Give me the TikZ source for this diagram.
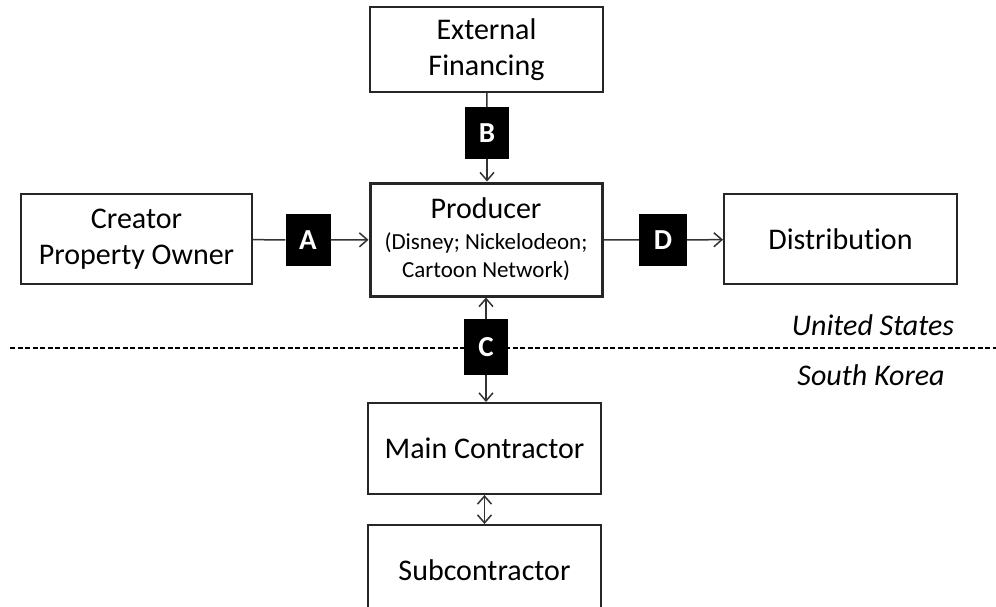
\documentclass[tikz,border=0pt]{standalone}
\usepackage{fontspec}
\setmainfont{Carlito}[Ligatures={NoCommon,NoRare}]
\usetikzlibrary{arrows.meta}
\newcommand{\smalltxt}{\fontsize{23}{28}\selectfont}
\begin{document}
\begin{tikzpicture}[x=1pt,y=-1pt,
   font=\fontsize{30}{36.5}\selectfont,
   box/.style={draw=black!85,line width=2pt,minimum width=233pt,align=center,inner sep=0pt},
   tag/.style={fill=black,text=white,font=\fontsize{29}{34}\selectfont\bfseries,minimum width=45pt,minimum height=52pt,inner sep=0pt},
   link/.style={draw=black!80,line width=1.5pt},
   tip/.style={-{Straight Barb[length=8pt,width=14pt,line width=1.5pt]}}]
   \useasboundingbox (0,0) rectangle (996,606);
   \clip (0,0) rectangle (996,606);

   % boxes
   \node[box,minimum height=85pt] (fin) at (486.5,49.5) {External\\Financing};
   \node[box,minimum height=113pt,minimum width=232pt,line width=3pt] (prod) at (486,239.5)
      {\raisebox{-4pt}{Producer}\\[-2pt]{\smalltxt (Disney; Nickelodeon;}\\[-8pt]{\smalltxt Cartoon Network)}};
   \node[box,minimum height=90pt,minimum width=231pt] (creator) at (136.5,239) {Creator\\Property Owner};
   \node[box,minimum height=90pt] (dist) at (840.5,239) {Distribution};
   \node[box,minimum height=91pt] (main) at (484.5,448.5) {Main Contractor};
   \node[box,minimum height=90pt] (sub) at (484.5,570) {Subcontractor};

   % border
   \coordinate (west) at (10,348);
   \coordinate (east) at (996,348);
   \draw[line width=1.5pt,dash pattern=on 5pt off 2.5pt] (west) -- (east);
   \node (us) at (873,325) {\itshape United States};
   \node (sk) at (871,375) {\itshape South Korea};

   % flows
   \node[tag] (A) at (308,240) {A};
   \node[tag,minimum width=44pt] (B) at (487,133) {B};
   \node[tag,minimum width=44pt,minimum height=56pt] (C) at (486,347) {C};
   \node[tag,minimum width=48pt] (D) at (663,240) {D};

   \draw[link] (creator) -- (A);
   \draw[link,tip] (A) -- (prod);
   \draw[link] (fin) -- (B);
   \draw[link,tip] (B) -- (prod.north -| B);
   \draw[link] (prod) -- (D);
   \draw[link,tip] (D) -- (dist);
   \draw[link,tip] (C) -- (prod.south -| C);
   \draw[link,tip] (C) -- (main.north -| C);
   \draw[link,tip] (sub.north) -- (main.south);
   \draw[link,tip] (main.south) -- (sub.north);
\end{tikzpicture}
\end{document}
